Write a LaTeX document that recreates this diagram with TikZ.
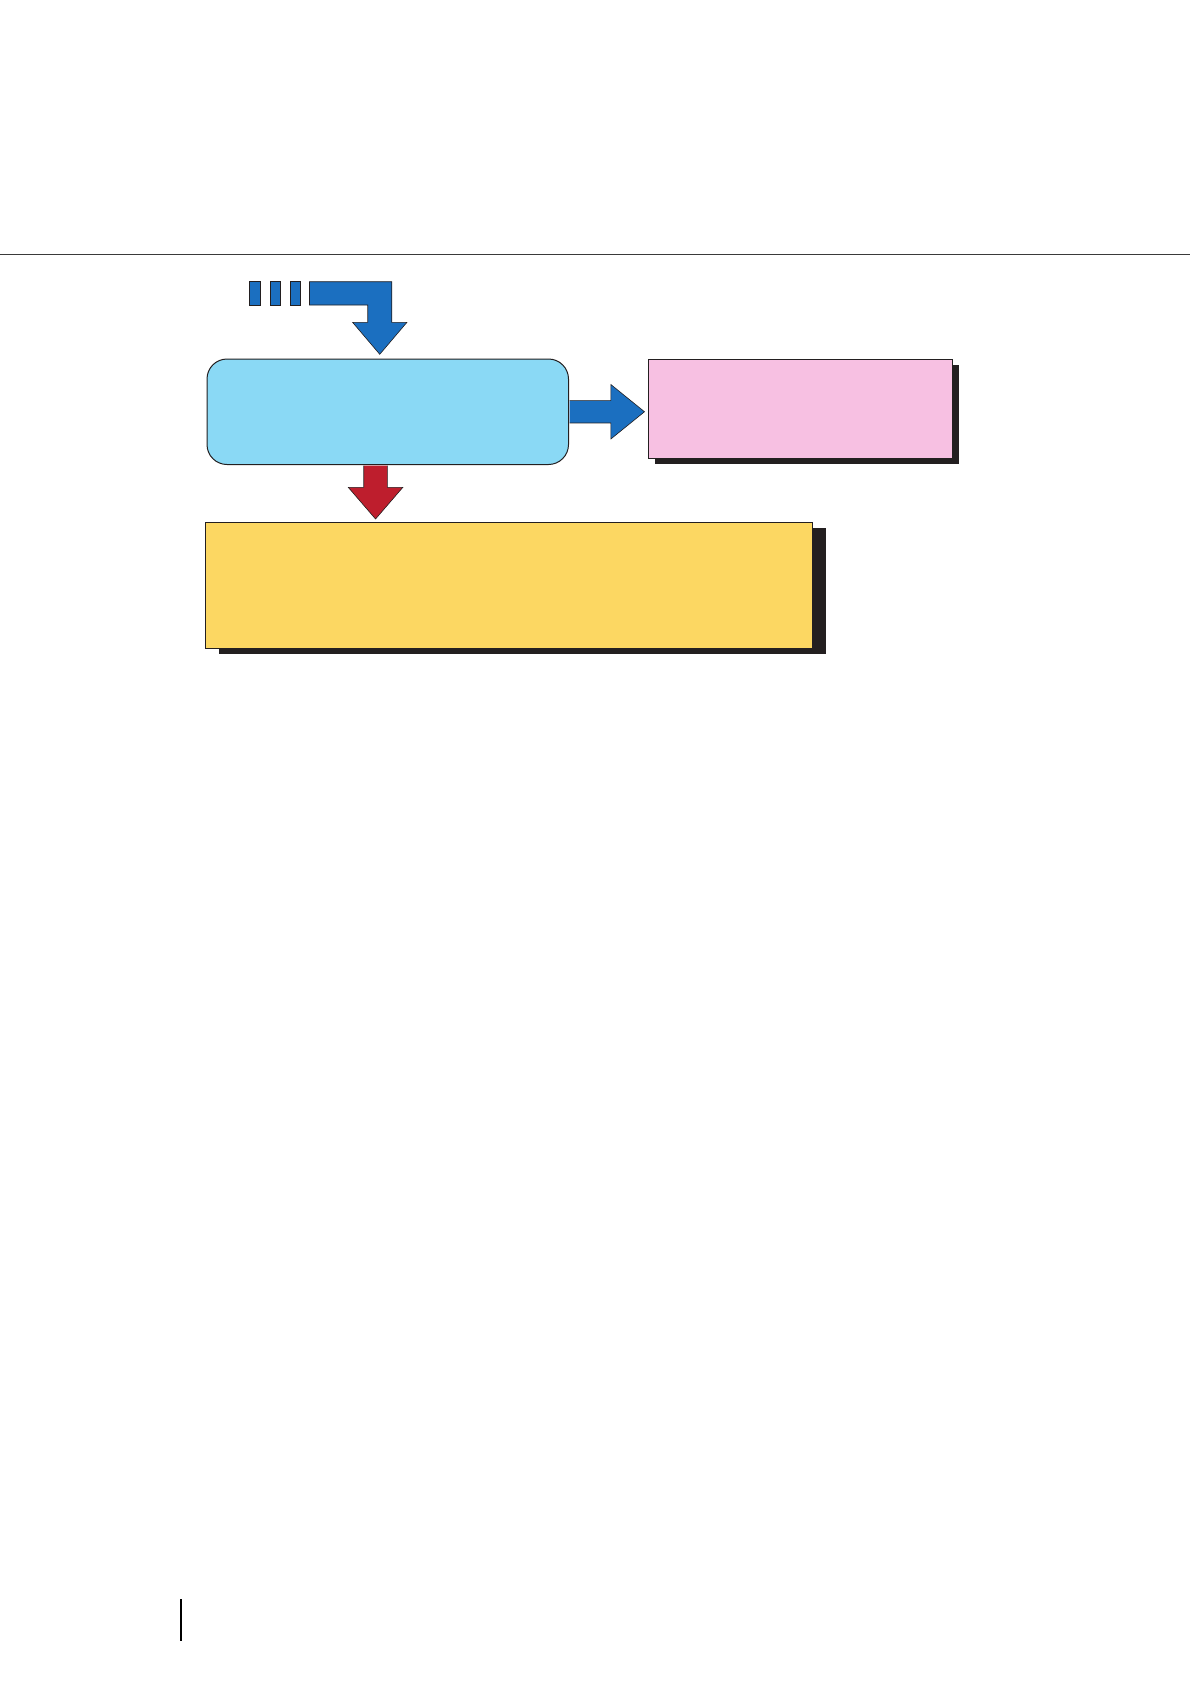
\documentclass[tikz,border=0pt]{standalone}
\usepackage{xcolor}
\usepackage{tikz}
\usetikzlibrary{positioning, calc, shadows}
\definecolor{flowblue}{HTML}{1B6FC0}
\definecolor{boxblue}{HTML}{8AD9F5}
\definecolor{boxpink}{HTML}{F7C0E2}
\definecolor{boxyellow}{HTML}{FCD762}
\definecolor{flowred}{HTML}{BE1E2D}
\definecolor{inkblack}{HTML}{231F20}
\definecolor{rulegray}{HTML}{3A3A3A}

\begin{document}
\begin{tikzpicture}[x=1pt, y=-1pt,
    box/.style={draw=inkblack, line width=1pt, inner sep=0pt, anchor=north west},
    shadowed/.style={drop shadow={shadow xshift=#1, shadow yshift=-5.5pt, opacity=1, fill=inkblack}},
    blockarrow/.style={draw=inkblack, line width=0.6pt, line join=miter}]
    \useasboundingbox (0,0) rectangle (1190,1684);

    % page rule and margin mark
    \draw[rulegray, line width=1.8pt] (0,254.5) -- (1190,254.5);
    \draw[black, line width=1.6pt] (181,1599) -- (181,1641);

    % boxes
    \node[box, fill=boxblue, rounded corners=20pt,
          minimum width=361.5pt, minimum height=105.5pt] (scan) at (206.5,358.5) {};
    \node[box, fill=boxpink, shadowed=6.5pt,
          minimum width=304pt, minimum height=99pt] (side) at (647.5,358.5) {};
    \node[box, fill=boxyellow, shadowed=13pt,
          minimum width=607pt, minimum height=126pt] (main) at (205,521.7) {};

    % feed arrow coming in
    \coordinate (ftip) at ($(scan.north)+(-8,-4.2)$);
    \draw[blockarrow, fill=flowblue] (ftip) -- ++(27.2,-32) -- ++(-15.2,0) -- ++(0,-40.6)
      -- ++(-82.3,0) -- ++(0,23.3) -- ++(58.3,0) -- ++(0,17.3) -- ++(-15.2,0) -- cycle;
    \foreach \dx in {-130.3,-109.8,-89.8}
      \fill[flowblue, draw=inkblack, line width=0.6pt]
        ($(ftip)+(\dx,-72.6)$) rectangle ++(10.5,23.3);

    % arrow to the side box
    \coordinate (rtip) at ($(side.west |- scan.east)+(-3,0)$);
    \draw[blockarrow, fill=flowblue] ($(scan.east)+(0.5,-11.2)$) -- ($(rtip)+(-33.6,-11.2)$)
      -- ($(rtip)+(-33.6,-27.2)$) -- (rtip) -- ($(rtip)+(-33.6,27.2)$)
      -- ($(rtip)+(-33.6,11.2)$) -- ($(scan.east)+(0.5,11.2)$);

    % arrow down to the main box
    \coordinate (dtip) at ($(scan.south |- main.north)+(-12.2,-2.7)$);
    \draw[blockarrow, fill=flowred] ($(dtip |- scan.south)+(-11.8,0.5)$) -- ($(dtip)+(-11.8,-31.7)$)
      -- ($(dtip)+(-27.3,-31.7)$) -- (dtip) -- ($(dtip)+(27.3,-31.7)$)
      -- ($(dtip)+(11.8,-31.7)$) -- ($(dtip |- scan.south)+(11.8,0.5)$);
\end{tikzpicture}
\end{document}
